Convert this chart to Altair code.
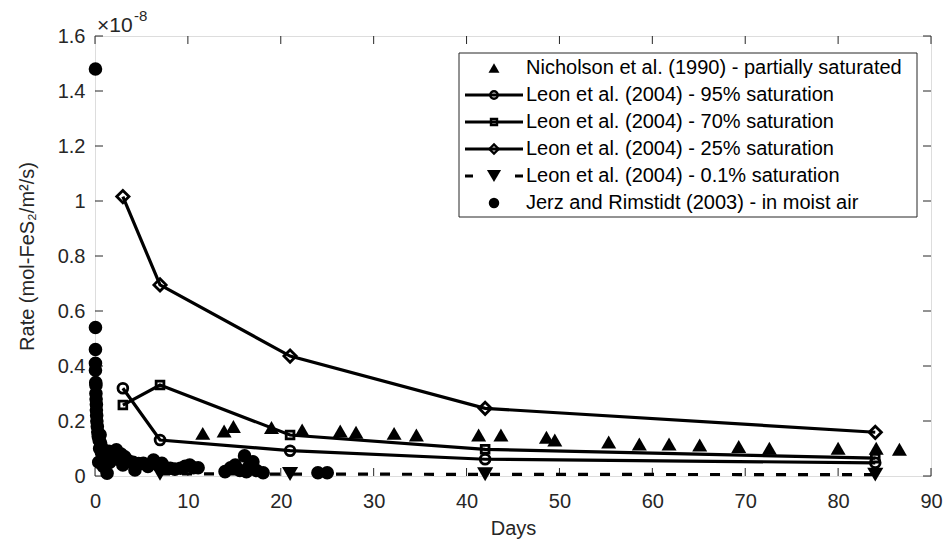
import altair as alt
import pandas as pd

# Rates are given in units of 1e-8 mol-FeS2/m2/s (the axis carries the x10^-8 factor)

# Nicholson et al. (1990) - partially saturated
nich_days = [11.6, 13.9, 14.9, 19.0, 22.3, 26.4, 28.1, 32.2, 34.6, 41.3, 43.7,
             48.6, 49.5, 55.3, 58.6, 61.8, 65.1, 69.3, 72.6, 80.0, 84.1, 86.6]
nich_rate = [0.155, 0.164, 0.180, 0.176, 0.167, 0.164, 0.159, 0.155, 0.149, 0.149, 0.149,
             0.141, 0.131, 0.124, 0.116, 0.116, 0.113, 0.107, 0.101, 0.101, 0.101, 0.097]

# Leon et al. (2004)
leon_days = [3, 7, 21, 42, 84]
leon95_rate = [0.319, 0.131, 0.092, 0.061, 0.048]
leon70_rate = [0.258, 0.331, 0.149, 0.097, 0.065]
leon25_rate = [1.016, 0.695, 0.436, 0.246, 0.159]
leon01_days = [7, 21, 42, 84]
leon01_rate = [0.008, 0.007, 0.006, 0.005]

# Jerz and Rimstidt (2003) - in moist air
jerz_days = [0.05, 0.05, 0.05, 0.05, 0.05, 0.08, 0.10, 0.10, 0.12, 0.15, 0.15, 0.18,
             0.20, 0.25, 0.30, 0.35, 0.45, 0.60, 0.80, 1.00, 1.20, 0.90, 1.30, 1.60,
             2.00, 2.30, 2.60, 3.00, 3.20, 3.60, 4.10, 4.30, 4.70, 5.20, 5.70, 6.30,
             6.80, 7.20, 7.60, 8.10, 8.60, 9.20, 9.70, 10.2, 10.6, 11.1, 14.0, 14.6,
             15.1, 15.6, 16.1, 16.3, 16.6, 17.0, 17.4, 18.1, 24.0, 25.0,
             0.40, 0.50, 0.70, 1.10, 1.50, 1.80, 2.80, 0.55]
jerz_rate = [1.480, 0.540, 0.460, 0.410, 0.385, 0.340, 0.330, 0.300, 0.280, 0.260, 0.240, 0.220,
             0.200, 0.180, 0.160, 0.145, 0.130, 0.120, 0.100, 0.080, 0.060, 0.035, 0.010, 0.050,
             0.070, 0.095, 0.060, 0.040, 0.070, 0.055, 0.050, 0.022, 0.045, 0.046, 0.035, 0.058,
             0.040, 0.046, 0.030, 0.028, 0.025, 0.028, 0.035, 0.040, 0.030, 0.030, 0.016, 0.030,
             0.040, 0.020, 0.073, 0.016, 0.035, 0.052, 0.020, 0.012, 0.012, 0.012,
             0.050, 0.100, 0.085, 0.040, 0.090, 0.060, 0.080, 0.150]

x_ticks = [0, 10, 20, 30, 40, 50, 60, 70, 80, 90]
y_ticks = [0, 0.2, 0.4, 0.6, 0.8, 1.0, 1.2, 1.4, 1.6]

legend_labels = [
    "Nicholson et al. (1990) - partially saturated",
    "Leon et al. (2004) - 95% saturation",
    "Leon et al. (2004) - 70% saturation",
    "Leon et al. (2004) - 25% saturation",
    "Leon et al. (2004) - 0.1% saturation",
    "Jerz and Rimstidt (2003) - in moist air",
]

FONT = "Liberation Sans"
INK = "#000000"
AXIS = "#262626"
W, H = 836, 440
TICK = 8
LINE_W = 3.2

series = [
    dict(day=nich_days, rate=nich_rate, dash=None, shape="triangle-up", filled=True, size=225, lsize=120),
    dict(day=leon_days, rate=leon95_rate, dash=[], shape="circle", filled=False, size=95, lsize=55),
    dict(day=leon_days, rate=leon70_rate, dash=[], shape="square", filled=False, size=60, lsize=36),
    dict(day=leon_days, rate=leon25_rate, dash=[], shape="diamond", filled=False, size=150, lsize=85),
    dict(day=leon01_days, rate=leon01_rate, dash=[10, 12], shape="triangle-down", filled=True, size=260, lsize=200),
    dict(day=jerz_days, rate=jerz_rate, dash=None, shape="circle", filled=True, size=185, lsize=110),
]

xs = alt.Scale(domain=[0, 90], nice=False, zero=False)
ys = alt.Scale(domain=[0, 1.6], nice=False, zero=False)

X_AXIS = alt.Axis(values=x_ticks, labelExpr="'' + datum.value", title="Days", grid=False,
                  domain=False, ticks=False, tickSize=0, labelPadding=15, labelFlush=False,
                  labelFontSize=20, labelColor=AXIS, labelFont=FONT,
                  titleFontSize=20, titleColor=AXIS, titleFont=FONT, titleFontWeight="normal",
                  titleX=W / 2, titleY=42)
Y_AXIS = alt.Axis(values=y_ticks, labelExpr="'' + datum.value", title="Rate (mol-FeS\u2082/m\u00b2/s)",
                  grid=False, domain=False, ticks=False, tickSize=0, labelPadding=10, labelFlush=False,
                  labelFontSize=20, labelColor=AXIS, labelFont=FONT,
                  titleFontSize=20, titleColor=AXIS, titleFont=FONT, titleFontWeight="normal",
                  titleAngle=270, titleAlign="center", titleBaseline="alphabetic",
                  titleX=-62, titleY=H / 2)

frames = []
for k, s in enumerate(series):
    frames.append(pd.DataFrame({"idx": k, "day": s["day"], "rate": s["rate"]}))
data = pd.concat(frames, ignore_index=True)

X = alt.X("day:Q", scale=xs, axis=X_AXIS)
Y = alt.Y("rate:Q", scale=ys, axis=Y_AXIS)

layers = []

# inward tick marks on all four sides of the box
xt = pd.DataFrame({"day": x_ticks})
yt = pd.DataFrame({"rate": y_ticks})
for y0, y1 in [(0, TICK), (H, H - TICK)]:
    layers.append(alt.Chart(xt).mark_rule(color=AXIS, strokeWidth=1)
                  .encode(x=X, y=alt.value(y0), y2=alt.value(y1)))
for x0, x1 in [(0, TICK), (W, W - TICK)]:
    layers.append(alt.Chart(yt).mark_rule(color=AXIS, strokeWidth=1)
                  .encode(y=Y, x=alt.value(x0), x2=alt.value(x1)))

# data series
for k, s in enumerate(series):
    sub = alt.Chart(data).transform_filter(alt.datum.idx == k)
    if s["dash"] is not None:
        line_kw = dict(color=INK, strokeWidth=LINE_W, strokeJoin="miter")
        if s["dash"]:
            line_kw["strokeDash"] = s["dash"]
        layers.append(sub.mark_line(**line_kw).encode(x=X, y=Y, order="day:Q"))
    pt_kw = dict(shape=s["shape"], size=s["size"], filled=s["filled"], color=INK, opacity=1)
    pt_kw["strokeWidth"] = 0.5 if s["filled"] else 2.8
    layers.append(sub.mark_point(**pt_kw).encode(x=X, y=Y))

# exponent label of the y axis
one = pd.DataFrame({"t": [""]})
layers.append(alt.Chart(one).mark_text(text="\u00d710", align="left", baseline="alphabetic",
                                      fontSize=21, font=FONT, color=AXIS)
              .encode(x=alt.value(2), y=alt.value(-4)))
layers.append(alt.Chart(one).mark_text(text="-8", align="left", baseline="alphabetic",
                                      fontSize=15, font=FONT, color=AXIS)
              .encode(x=alt.value(39), y=alt.value(-15)))

# legend box
LX0, LX1, LY0, LY1 = 364, 822, 17, 181
ROW0, ROW_DY = 32, 27
SYM_X0, SYM_X1, SYM_C, TXT_X = 370, 428, 399, 431
layers.append(alt.Chart(one).mark_rect(fill="white", stroke=AXIS, strokeWidth=1)
              .encode(x=alt.value(LX0), x2=alt.value(LX1), y=alt.value(LY0), y2=alt.value(LY1)))
for k, (s, label) in enumerate(zip(series, legend_labels)):
    ly = ROW0 + ROW_DY * k
    if s["dash"] is not None:
        rule_kw = dict(color=INK, strokeWidth=LINE_W)
        if s["dash"]:
            rule_kw["strokeDash"] = [8, 42]
        layers.append(alt.Chart(one).mark_rule(**rule_kw)
                      .encode(x=alt.value(SYM_X0), x2=alt.value(SYM_X1), y=alt.value(ly)))
    pt_kw = dict(shape=s["shape"], size=s["lsize"], filled=s["filled"], color=INK, opacity=1)
    pt_kw["strokeWidth"] = 0.5 if s["filled"] else 2.4
    layers.append(alt.Chart(one).mark_point(**pt_kw)
                  .encode(x=alt.value(SYM_C), y=alt.value(ly)))
    layers.append(alt.Chart(pd.DataFrame({"label": [label]}))
                  .mark_text(align="left", baseline="middle", fontSize=20, font=FONT, color=INK)
                  .encode(x=alt.value(TXT_X), y=alt.value(ly), text="label:N"))

chart = (
    alt.layer(*layers)
    .properties(width=W, height=H, background="white",
                autosize=alt.AutoSizeParams(type="none"),
                padding={"left": 95, "top": 36, "right": 15, "bottom": 70})
    .configure_view(stroke=AXIS, strokeWidth=1)
    .configure(font=FONT)
)

chart.save("out.html", embed_options={"renderer": "svg", "actions": False})
